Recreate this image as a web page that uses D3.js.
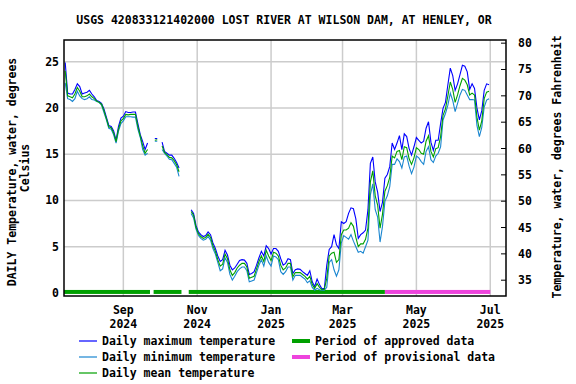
<!DOCTYPE html>
<html>
<head>
<meta charset="utf-8">
<script src="https://cdn.jsdelivr.net/npm/d3@7"></script>
<style>
  body { margin: 0; background: #fff; }
  svg text { font-family: "DejaVu Sans Mono", monospace; font-weight: bold; font-size: 11.5px; fill: #000; }
</style>
</head>
<body>
<svg id="chart" width="576" height="384"></svg>
<script>
{
    // daily values sampled every 2 days, starting 2024-07-15
    const startDate = new Date(2024, 6, 15);
    const stepDays = 2;

    const maxTemp = [24.9,21.6,21.5,21.5,22.0,22.6,22.3,21.5,21.6,21.7,
        21.9,21.5,21.2,20.8,20.7,20.5,19.9,19.0,18.1,18.0,
        17.5,16.5,18.0,18.9,19.1,19.6,19.5,19.5,19.55,19.55,
        18.3,17.1,16.35,15.5,16.2,null,null,16.7,16.7,null,
        16.3,15.3,15.1,14.9,14.9,14.55,14.1,13.5,null,null,
        null,null,9.0,8.6,7.3,6.6,6.3,6.1,6.2,6.6,
        6.3,5.4,4.8,4.0,3.4,3.6,4.6,4.1,3.0,2.5,
        2.7,3.1,3.5,3.6,3.55,3.2,2.0,2.1,2.3,3.0,
        3.8,4.5,4.0,5.1,4.8,4.2,4.8,4.8,4.5,3.7,
        3.0,3.2,3.7,3.6,2.1,2.5,2.6,2.55,2.3,2.1,
        1.9,2.4,1.2,0.7,1.5,0.9,0.45,0.5,3.0,4.7,
        5.0,6.3,5.2,4.8,7.7,7.5,7.7,8.6,9.2,9.1,
        8.0,5.9,6.3,6.5,6.8,9.0,14.0,14.7,12.0,10.9,
        8.8,9.8,12.4,12.8,13.65,16.2,15.5,16.2,17.0,15.5,
        17.2,16.9,15.6,14.9,15.8,16.8,16.5,16.2,16.4,17.8,
        18.5,16.3,15.4,16.5,16.5,18.3,19.95,20.6,22.5,24.3,
        23.5,21.9,22.6,23.6,24.6,24.5,23.9,22.0,22.6,22.1,
        20.0,18.7,19.7,21.9,22.6,22.5];

    const minTemp = [22.7,21.0,20.9,20.7,21.0,21.8,21.3,21.0,20.9,21.0,
        21.2,20.9,20.85,20.7,20.6,20.3,19.5,18.7,17.8,17.7,
        17.1,16.2,17.5,18.3,18.6,19.05,19.05,19.05,19.0,19.0,
        17.7,16.8,15.5,14.9,15.1,null,null,16.4,16.4,null,
        15.5,15.1,14.8,14.45,14.4,14.0,13.6,12.6,null,null,
        null,null,8.6,8.1,6.9,6.2,5.9,5.7,5.8,6.1,
        5.7,4.8,4.2,3.3,2.4,2.6,3.8,3.3,2.0,1.4,
        1.8,2.3,2.6,2.8,2.8,2.4,1.2,1.3,1.4,2.2,
        3.0,3.6,2.9,4.0,3.3,2.9,4.0,3.9,3.6,2.3,
        2.0,2.3,2.8,2.8,1.4,1.9,1.9,1.9,1.7,1.5,
        1.1,1.3,0.6,0.3,0.5,0.35,0.3,0.3,0.6,3.3,
        3.6,2.5,1.8,2.5,5.4,6.2,6.0,5.8,6.3,5.6,
        5.0,4.4,4.5,4.3,5.0,5.7,10.6,11.8,9.0,8.2,
        5.5,7.2,9.9,10.5,11.5,13.9,13.9,14.5,14.2,13.5,
        14.7,14.8,13.7,12.9,13.6,14.8,14.6,14.2,13.9,15.3,
        15.8,14.4,14.1,14.8,15.1,15.8,18.7,19.4,20.3,21.6,
        20.8,19.6,20.5,21.4,22.0,21.9,21.4,20.9,20.9,20.85,
        18.1,16.9,17.9,20.1,20.85,21.0];

    const meanTemp = [24.0,21.3,21.2,21.1,21.5,22.2,21.8,21.2,21.2,21.3,
        21.5,21.2,21.0,20.75,20.6,20.4,19.7,18.85,17.95,17.85,
        17.3,16.35,17.7,18.6,18.85,19.3,19.25,19.3,19.3,19.3,
        18.0,16.95,15.9,15.1,15.5,null,null,16.5,16.55,null,
        15.9,15.2,14.95,14.65,14.6,14.3,13.85,13.1,null,null,
        null,null,8.8,8.4,7.1,6.4,6.1,5.9,6.0,6.35,
        6.0,5.1,4.5,3.6,2.9,3.1,4.2,3.7,2.5,1.9,
        2.2,2.7,3.0,3.2,3.2,2.8,1.6,1.7,1.8,2.6,
        3.4,4.0,3.4,4.6,4.0,3.5,4.4,4.3,4.0,3.0,
        2.5,2.7,3.2,3.2,1.75,2.2,2.2,2.2,2.0,1.8,
        1.5,1.8,0.9,0.5,1.0,0.6,0.35,0.4,1.6,4.0,
        4.3,4.4,3.3,3.6,6.3,6.8,6.8,7.0,7.6,7.2,
        6.0,5.0,5.3,5.3,5.8,7.0,12.0,13.2,10.5,9.5,
        7.0,8.5,11.0,11.6,12.5,14.8,14.6,15.3,15.4,14.4,
        15.8,15.7,14.5,13.9,14.6,15.7,15.5,15.1,15.0,16.4,
        17.0,15.3,14.7,15.6,15.7,16.9,19.2,19.9,21.3,22.8,
        22.0,20.6,21.4,22.4,23.2,23.0,22.5,21.4,21.6,21.4,
        19.0,17.6,18.6,21.0,21.7,21.8];

    const approvedPeriods = [
        [new Date(2024, 6, 14), new Date(2024, 8, 23)],
        [new Date(2024, 8, 26), new Date(2024, 9, 19)],
        [new Date(2024, 9, 25), new Date(2025, 3, 5)]];
    const provisionalPeriods = [
        [new Date(2025, 3, 5), new Date(2025, 6, 1)]];

    const xTickDates = [new Date(2024, 8, 1), new Date(2024, 10, 1), new Date(2025, 0, 1),
        new Date(2025, 2, 1), new Date(2025, 4, 1), new Date(2025, 6, 1)];
    const xTickMonths = ["Sep", "Nov", "Jan", "Mar", "May", "Jul"];
    const xTickYears = ["2024", "2024", "2025", "2025", "2025", "2025"];
    const celsiusTicks = [0, 5, 10, 15, 20, 25];
    const fahrenheitTicks = [35, 40, 45, 50, 55, 60, 65, 70, 75, 80];

    const title = "USGS 420833121402000 LOST RIVER AT WILSON DAM, AT HENLEY, OR";

    const colors = {max: "#0000ff", min: "#1a86d0", mean: "#00a000", approved: "#00a000", provisional: "#ee44dd"};

    const plot = {left: 64, right: 506, top: 40, bottom: 296};

    const x = d3.scaleTime()
        .domain([new Date(2024, 6, 14), new Date(2025, 6, 14)])
        .range([plot.left, plot.right]);
    const y = d3.scaleLinear().domain([-0.33, 27.34]).range([plot.bottom, plot.top]);
    const yF = d3.scaleLinear().domain([32, 80.6]).range([plot.bottom, plot.top]);

    const svg = d3.select("#chart");

    svg.append("text")
        .attr("x", 284).attr("y", 24)
        .attr("text-anchor", "middle")
        .text(title);

    // grid
    const grid = svg.append("g").attr("stroke", "#cccccc").attr("stroke-width", 1.5);
    grid.selectAll("line.h")
        .data(celsiusTicks.filter(d => d > 0))
        .enter().append("line")
            .attr("x1", plot.left).attr("x2", plot.right)
            .attr("y1", d => y(d)).attr("y2", d => y(d));
    grid.selectAll("line.v")
        .data(xTickDates)
        .enter().append("line")
            .attr("x1", d => x(d)).attr("x2", d => x(d))
            .attr("y1", plot.top).attr("y2", plot.bottom);

    // data-period bars
    const bars = svg.append("g");
    const barY = y(0) - 1;
    bars.selectAll("rect.a")
        .data(approvedPeriods)
        .enter().append("rect")
            .attr("x", d => x(d[0])).attr("width", d => x(d[1]) - x(d[0]))
            .attr("y", barY - 2).attr("height", 4)
            .attr("fill", colors.approved);
    bars.selectAll("rect.p")
        .data(provisionalPeriods)
        .enter().append("rect")
            .attr("x", d => x(d[0])).attr("width", d => x(d[1]) - x(d[0]))
            .attr("y", barY - 2).attr("height", 4)
            .attr("fill", colors.provisional);

    // series
    const dateAt = i => d3.timeDay.offset(startDate, i * stepDays);
    const line = d3.line()
        .defined(d => d != null)
        .x((d, i) => x(dateAt(i)))
        .y(d => y(d));

    [[maxTemp, colors.max], [minTemp, colors.min], [meanTemp, colors.mean]].forEach(([series, color]) => {
        svg.append("path")
            .datum(series)
            .attr("fill", "none")
            .attr("stroke", color)
            .attr("stroke-width", 1.1)
            .attr("d", line);
    });

    // frame
    svg.append("rect")
        .attr("x", plot.left).attr("y", plot.top)
        .attr("width", plot.right - plot.left).attr("height", plot.bottom - plot.top)
        .attr("fill", "none").attr("stroke", "#000").attr("stroke-width", 1.5);

    // left axis labels
    svg.selectAll("text.yl")
        .data(celsiusTicks)
        .enter().append("text")
            .attr("x", plot.left - 5).attr("y", d => y(d) + 4)
            .attr("text-anchor", "end")
            .text(d => d);

    // right axis ticks and labels
    svg.selectAll("line.yr")
        .data(fahrenheitTicks)
        .enter().append("line")
            .attr("x1", plot.right - 5).attr("x2", plot.right)
            .attr("y1", d => yF(d)).attr("y2", d => yF(d))
            .attr("stroke", "#000").attr("stroke-width", 1);
    svg.selectAll("text.yr")
        .data(fahrenheitTicks)
        .enter().append("text")
            .attr("x", plot.right + 12).attr("y", d => yF(d) + 4)
            .text(d => d);

    // x labels
    svg.selectAll("text.xm")
        .data(xTickDates)
        .enter().append("text")
            .attr("x", d => x(d)).attr("y", 314)
            .attr("text-anchor", "middle")
            .text((d, i) => xTickMonths[i]);
    svg.selectAll("text.xy")
        .data(xTickDates)
        .enter().append("text")
            .attr("x", d => x(d)).attr("y", 327.5)
            .attr("text-anchor", "middle")
            .text((d, i) => xTickYears[i]);

    // axis titles
    const midY = (plot.top + plot.bottom) / 2;
    svg.append("text")
        .attr("transform", `translate(16, ${midY + 4}) rotate(-90)`)
        .attr("text-anchor", "middle")
        .text("DAILY Temperature, water, degrees");
    svg.append("text")
        .attr("transform", `translate(29, ${midY}) rotate(-90)`)
        .attr("text-anchor", "middle")
        .text("Celsius");
    svg.append("text")
        .attr("transform", `translate(561, ${midY - 1}) rotate(-90)`)
        .attr("text-anchor", "middle")
        .text("Temperature, water, degrees Fahrenheit");

    // legend
    const legendLines = [
        ["Daily maximum temperature", colors.max],
        ["Daily minimum temperature", colors.min],
        ["Daily mean temperature", colors.mean]];
    const legendBars = [
        ["Period of approved data", colors.approved],
        ["Period of provisional data", colors.provisional]];
    const rowY = i => 341 + i * 16;

    const lg = svg.append("g");
    legendLines.forEach(([label, color], i) => {
        lg.append("line")
            .attr("x1", 79).attr("x2", 97)
            .attr("y1", rowY(i)).attr("y2", rowY(i))
            .attr("stroke", color).attr("stroke-width", 1.2);
        lg.append("text").attr("x", 102).attr("y", rowY(i) + 4).text(label);
    });
    legendBars.forEach(([label, color], i) => {
        lg.append("line")
            .attr("x1", 292).attr("x2", 310)
            .attr("y1", rowY(i)).attr("y2", rowY(i))
            .attr("stroke", color).attr("stroke-width", 4);
        lg.append("text").attr("x", 315).attr("y", rowY(i) + 4).text(label);
    });
}
</script>
</body>
</html>
